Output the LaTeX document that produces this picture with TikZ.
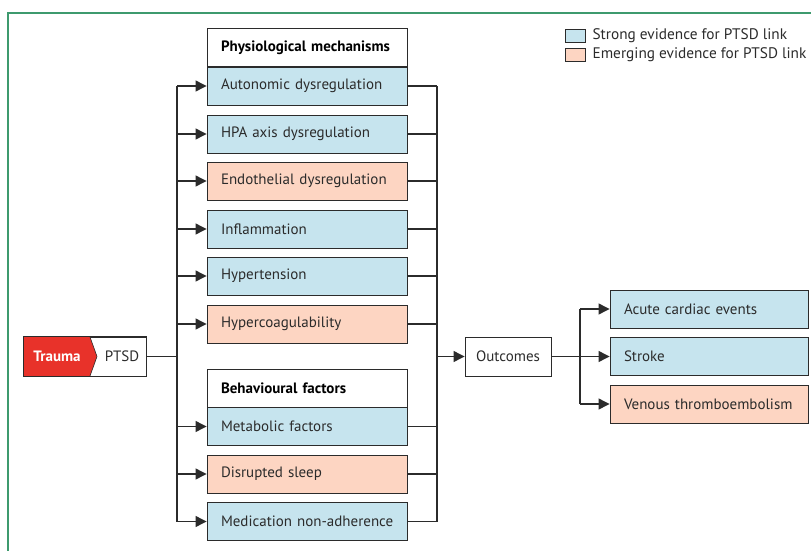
\documentclass[tikz,border=0pt]{standalone}
\usepackage{fontspec}
\setmainfont{PT Sans}
\usetikzlibrary{arrows.meta,positioning}
\definecolor{strongblue}{HTML}{C6E4EE}
\definecolor{emergepink}{HTML}{FDD5C2}
\definecolor{traumared}{HTML}{E8322A}
\definecolor{framegreen}{HTML}{3E9A6E}
\definecolor{linegrey}{HTML}{2B2B2B}
\tikzset{
  mech/.style={draw=linegrey, text=linegrey, line width=0.9pt, minimum height=38pt, text width=186pt,
    inner xsep=7pt, inner ysep=0pt, align=left, font=\fontsize{15}{17}\selectfont,
    execute at begin node={\hspace*{7pt}}},
  strong/.style={mech, fill=strongblue},
  emerging/.style={mech, fill=emergepink},
  header/.style={mech, fill=white, text=black, font=\bfseries\fontsize{15}{17}\selectfont},
  outcome/.style={mech, text width=184pt},
  link/.style={linegrey, line width=1.2pt},
  arr/.style={link, -{Triangle[length=11pt,width=11pt]}},
  keybox/.style={draw=linegrey, line width=0.8pt, minimum width=20pt, minimum height=13pt, inner sep=0pt},
  keytext/.style={text=linegrey, font=\fontsize{15.3}{17}\selectfont, inner sep=0pt}
}
\begin{document}
\begin{tikzpicture}[x=1pt, y=-1pt]
\useasboundingbox (0,0) rectangle (811,551);
% frame
\draw[framegreen, line width=1.2pt] (8,551) -- (8,13) -- (811,13);

% legend
\node[keybox, fill=strongblue] (keystrong) at (575,35.5) {};
\node[keytext, right=7pt of keystrong] (keystrongtext) {Strong evidence for PTSD link};
\node[keybox, fill=emergepink] (keyemerg) at (575,54.5) {};
\node[keytext, right=7pt of keyemerg] (keyemergtext) {Emerging evidence for PTSD link};

% trauma -> PTSD
\node[draw=linegrey, line width=0.9pt, minimum width=122pt, minimum height=39pt, inner sep=0pt] (ptsd) at (85,356.5) {};
\fill[traumared] (ptsd.north west) -- (90,337) -- (97,356.5) -- (90,376) -- (ptsd.south west) -- cycle;
\draw[linegrey, line width=0.6pt] (90,337) -- (97,356.5) -- (90,376);
\draw[linegrey, line width=0.9pt] (ptsd.north west) rectangle (ptsd.south east);
\node[text=white, font=\bfseries\fontsize{15}{17}\selectfont] (trauma) at (57,356.5) {Trauma};
\node[text=linegrey, font=\fontsize{15}{17}\selectfont] (ptsdlabel) at (122,356.5) {PTSD};

% mechanisms
\node[header] (physio) at (307,47.5) {Physiological mechanisms};
\node[strong] (auto) at (307,86) {Autonomic dysregulation};
\node[strong] (hpa) at (307,134) {HPA axis dysregulation};
\node[emerging] (endo) at (307,181) {Endothelial dysregulation};
\node[strong] (inflam) at (307,229) {Inflammation};
\node[strong] (hyper) at (307,276) {Hypertension};
\node[emerging] (coag) at (307,324) {Hypercoagulability};
\node[header] (behav) at (307,388) {Behavioural factors};
\node[strong] (metab) at (307,426.5) {Metabolic factors};
\node[emerging] (sleep) at (307,474) {Disrupted sleep};
\node[strong] (medic) at (307,521.5) {Medication non-adherence};

% outcomes
\node[draw=linegrey, text=linegrey, line width=0.9pt, minimum width=86pt, minimum height=39pt, inner sep=0pt,
  font=\fontsize{15}{17}\selectfont] (outc) at (508,356.5) {Outcomes};
\node[outcome, fill=strongblue] (acute) at (709,309) {Acute cardiac events};
\node[outcome, fill=strongblue] (stroke) at (709,356.5) {Stroke};
\node[outcome, fill=emergepink] (venous) at (709,404) {Venous thromboembolism};

% connectors
\coordinate (ltrunk) at (177,0);
\coordinate (rtrunk) at (437,0);
\coordinate (otrunk) at (580,0);
\draw[link] (ptsd.east) -- (ptsd.east -| ltrunk);
\draw[link] (auto.west -| ltrunk) -- (medic.west -| ltrunk);
\draw[link] (auto.east -| rtrunk) -- (medic.east -| rtrunk);
\foreach \n in {auto,hpa,endo,inflam,hyper,coag,metab,sleep,medic}{
  \draw[arr] (\n.west -| ltrunk) -- (\n.west);
  \draw[link] (\n.east) -- (\n.east -| rtrunk);
}
\draw[arr] (outc.west -| rtrunk) -- (outc.west);
\draw[link] (outc.east) -- (outc.east -| otrunk);
\draw[link] (acute.west -| otrunk) -- (venous.west -| otrunk);
\foreach \n in {acute,stroke,venous}
  \draw[arr] (\n.west -| otrunk) -- (\n.west);
\end{tikzpicture}
\end{document}
